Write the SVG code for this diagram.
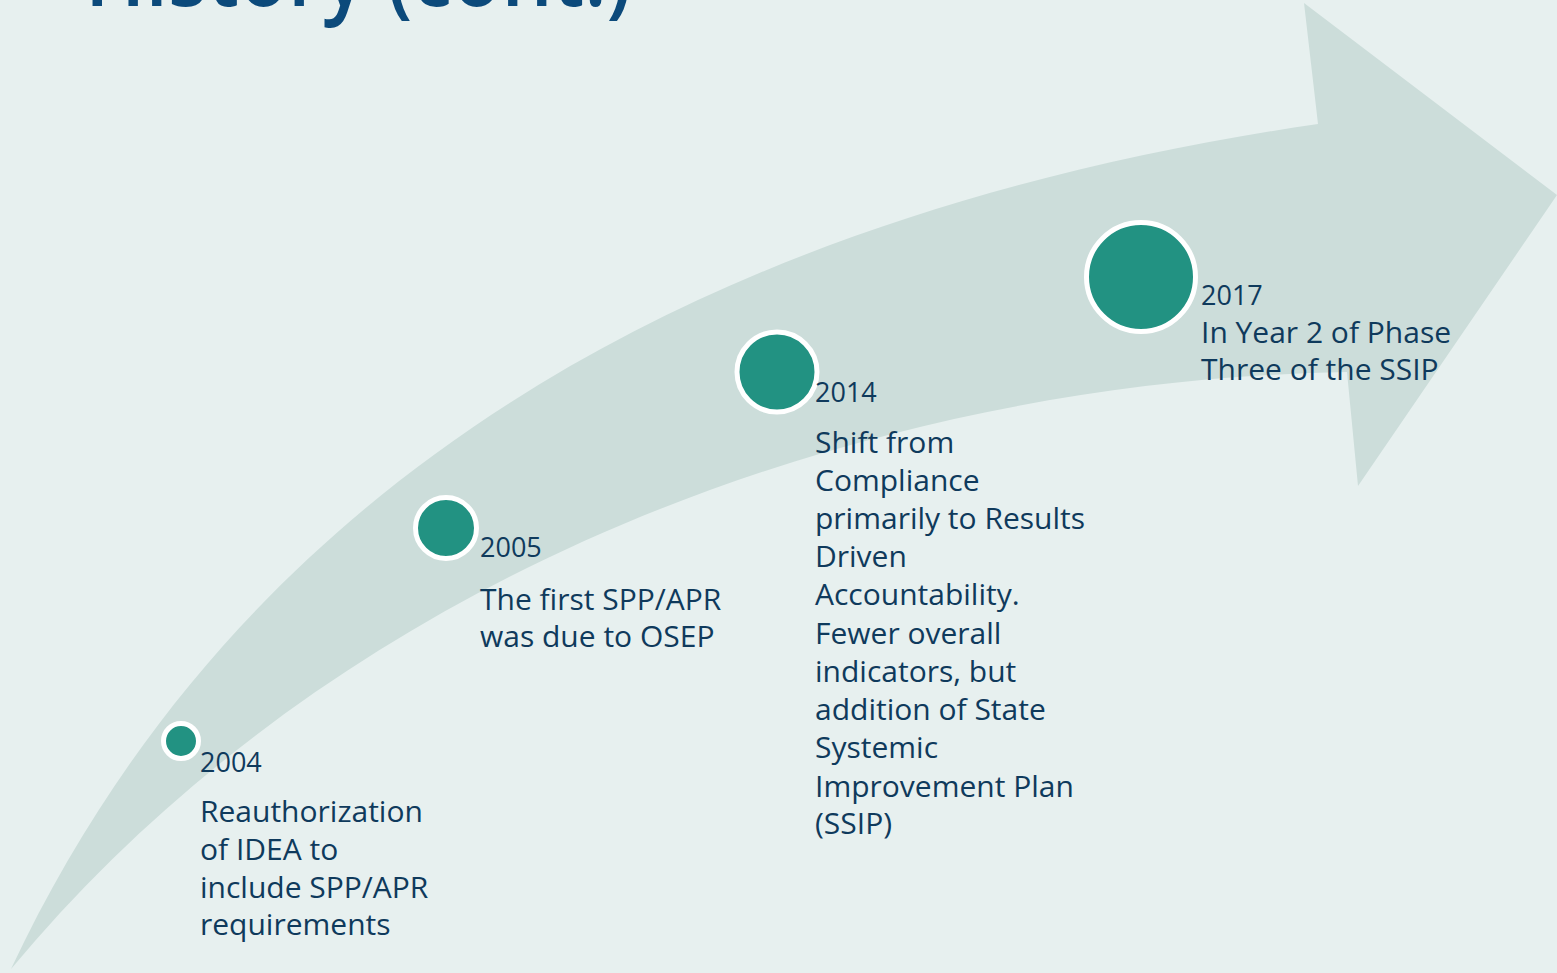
<svg xmlns="http://www.w3.org/2000/svg" width="1557" height="973" viewBox="0 0 1557 973">
<style>
.t{font-family:"Open Sans","Liberation Sans",sans-serif;fill:#0F3A5C;font-size:30px}
.y{font-size:27px}
.dot{fill:#229282;stroke:#FFFFFF;stroke-width:5}
.title{font-family:"Open Sans","Liberation Sans",sans-serif;fill:#0C4A7B;font-size:92px;font-weight:600}
</style>
<rect x="0" y="0" width="1557" height="973" fill="#E7F0EF"/>
<text class="title" x="85" y="6" textLength="547" lengthAdjust="spacingAndGlyphs">History (cont.)</text>
<g id="arrow">
<path d="M 11 969 C 271 416 800 200 1318 124 L 1304 3 L 1557 195 L 1358 486 L 1347 372 C 900 380 361 549 11 969 Z" fill="#CCDDDA"/>
</g>
<g id="node-2004">
<circle class="dot" cx="181" cy="741" r="17.5"/>
<text class="t y" x="200" y="772">2004</text>
<text class="t" x="200" y="822">Reauthorization</text>
<text class="t" x="200" y="860">of IDEA to</text>
<text class="t" x="200" y="898">include SPP/APR</text>
<text class="t" x="200" y="935">requirements</text>
</g>
<g id="node-2005">
<circle class="dot" cx="446" cy="528" r="30.5"/>
<text class="t y" x="480" y="557">2005</text>
<text class="t" x="480" y="610">The first SPP/APR</text>
<text class="t" x="480" y="647">was due to OSEP</text>
</g>
<g id="node-2014">
<circle class="dot" cx="777" cy="372" r="40"/>
<text class="t y" x="815" y="402">2014</text>
<text class="t" x="815" y="453">Shift from</text>
<text class="t" x="815" y="491">Compliance</text>
<text class="t" x="815" y="529">primarily to Results</text>
<text class="t" x="815" y="567">Driven</text>
<text class="t" x="815" y="605">Accountability.</text>
<text class="t" x="815" y="644">Fewer overall</text>
<text class="t" x="815" y="682">indicators, but</text>
<text class="t" x="815" y="720">addition of State</text>
<text class="t" x="815" y="758">Systemic</text>
<text class="t" x="815" y="797">Improvement Plan</text>
<text class="t" x="815" y="834">(SSIP)</text>
</g>
<g id="node-2017">
<circle class="dot" cx="1141" cy="277" r="54.5"/>
<text class="t y" x="1201" y="305">2017</text>
<text class="t" x="1201" y="343">In Year 2 of Phase</text>
<text class="t" x="1201" y="380">Three of the SSIP</text>
</g>
<g id="connectors"></g>
</svg>
